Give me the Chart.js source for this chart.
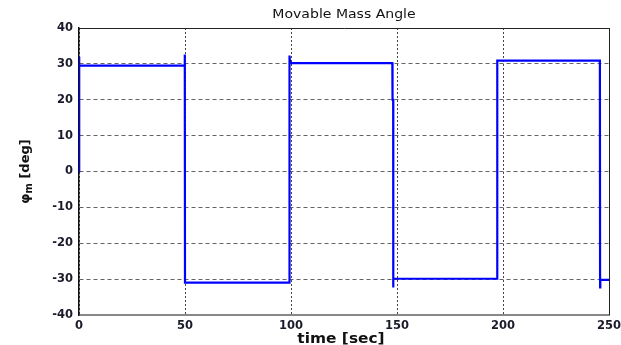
<!DOCTYPE html>
<html>
<head>
<meta charset="utf-8">
<script src="https://cdn.jsdelivr.net/npm/chart.js@4.4.1/dist/chart.umd.min.js"></script>
<style>
  html, body { margin: 0; padding: 0; background: #fff; }
  #wrap { width: 621px; height: 345px; }
</style>
</head>
<body>
<div id="wrap"><canvas id="angleChart" width="621" height="345"></canvas></div>
<script>
// Movable mass angle vs. time (switching between roughly +30 and -30 deg)
const timeSec = [0, 0, 0.2, 49.8, 49.9, 50.0, 99.2, 99.3, 99.6, 147.8, 147.9, 148.2, 148.2, 148.3, 197.2, 197.3, 245.7, 245.8, 245.9, 250];
const phiDeg  = [0, 32, 29.5, 29.5, 32.6, -31, -31, 32.3, 30.2, 30.2, 20, 20, -32.3, -29.9, -29.9, 30.9, 30.9, -32.3, -30.2, -30.2];

const xTicks = [0, 50, 100, 150, 200, 250];
const yTicks = [-40, -30, -20, -10, 0, 10, 20, 30, 40];

const tickFont = { family: '"DejaVu Sans", sans-serif', size: 11.5, weight: 'bold' };

// draws text stretched horizontally by sx around its centre
function wideText(ctx, text, cx, cy, sx) {
  ctx.save();
  ctx.translate(cx, cy);
  ctx.scale(sx, 1);
  ctx.fillText(text, 0, 0);
  ctx.restore();
}

// frame on top/right plus title and axis labels
const framePlugin = {
  id: 'frame',
  afterDraw(chart) {
    const { ctx, chartArea: a } = chart;
    ctx.save();
    ctx.strokeStyle = '#222';
    ctx.lineWidth = 1;
    ctx.beginPath();
    ctx.moveTo(a.left, a.top + 0.5);
    ctx.lineTo(a.right + 0.5, a.top + 0.5);
    ctx.lineTo(a.right + 0.5, a.bottom);
    ctx.stroke();

    const cx = (a.left + a.right) / 2;
    ctx.fillStyle = '#111';
    ctx.textAlign = 'center';
    ctx.textBaseline = 'middle';
    ctx.font = '12px "DejaVu Sans", sans-serif';
    wideText(ctx, 'Movable Mass Angle', cx, 15, 1.17);

    ctx.font = 'bold 14px "DejaVu Sans", sans-serif';
    wideText(ctx, 'time [sec]', cx - 3, 339, 1.1);

    // rotated y label with subscript m
    ctx.translate(24, (a.top + a.bottom) / 2);
    ctx.rotate(-Math.PI / 2);
    ctx.textAlign = 'left';
    ctx.textBaseline = 'alphabetic';
    const big = 'bold 13px "DejaVu Sans", sans-serif';
    const small = 'bold 10px "DejaVu Sans", sans-serif';
    ctx.font = big;
    const wPhi = ctx.measureText('\u03c6').width;
    const wRest = ctx.measureText(' [deg]').width;
    ctx.font = small;
    const wSub = ctx.measureText('m').width;
    let x = -(wPhi + wSub + wRest) / 2;
    const base = 5;
    ctx.font = big;
    ctx.fillText('\u03c6', x, base);
    x += wPhi;
    ctx.font = small;
    ctx.fillText('m', x, base + 3);
    x += wSub;
    ctx.font = big;
    ctx.fillText(' [deg]', x, base);
    ctx.restore();
  }
};

new Chart(document.getElementById('angleChart'), {
  type: 'line',
  data: {
    labels: timeSec,
    datasets: [{
      data: timeSec.map((t, i) => ({ x: t, y: phiDeg[i] })),
      borderColor: '#0000ff',
      borderWidth: 2.2,
      pointRadius: 0,
      tension: 0,
      fill: false
    }]
  },
  options: {
    responsive: false,
    animation: false,
    layout: { padding: { top: 28, right: 0, left: 0, bottom: 0 } },
    plugins: {
      legend: { display: false },
      tooltip: { enabled: false }
    },
    scales: {
      x: {
        type: 'linear',
        min: 0,
        max: 250,
        afterBuildTicks: s => { s.ticks = xTicks.map(v => ({ value: v })); },
        afterFit: s => {
          s.height = 30;
          s.paddingLeft = 0;
          s.paddingRight = 12;
        },
        grid: { color: '#444', lineWidth: 1, drawTicks: false },
        border: { color: '#888', width: 2, dash: [2, 2] },
        ticks: { font: tickFont, color: '#1a1a2a', padding: 4, maxRotation: 0 }
      },
      y: {
        type: 'linear',
        min: -40,
        max: 40,
        afterBuildTicks: s => { s.ticks = yTicks.map(v => ({ value: v })); },
        afterFit: s => { s.width = 79; },
        grid: { color: '#666', lineWidth: 1, drawTicks: false },
        border: { color: '#111', width: 1.5, dash: [4, 3] },
        ticks: { font: tickFont, color: '#1a1a2a', padding: 6 }
      }
    }
  },
  plugins: [framePlugin]
});
</script>
</body>
</html>
